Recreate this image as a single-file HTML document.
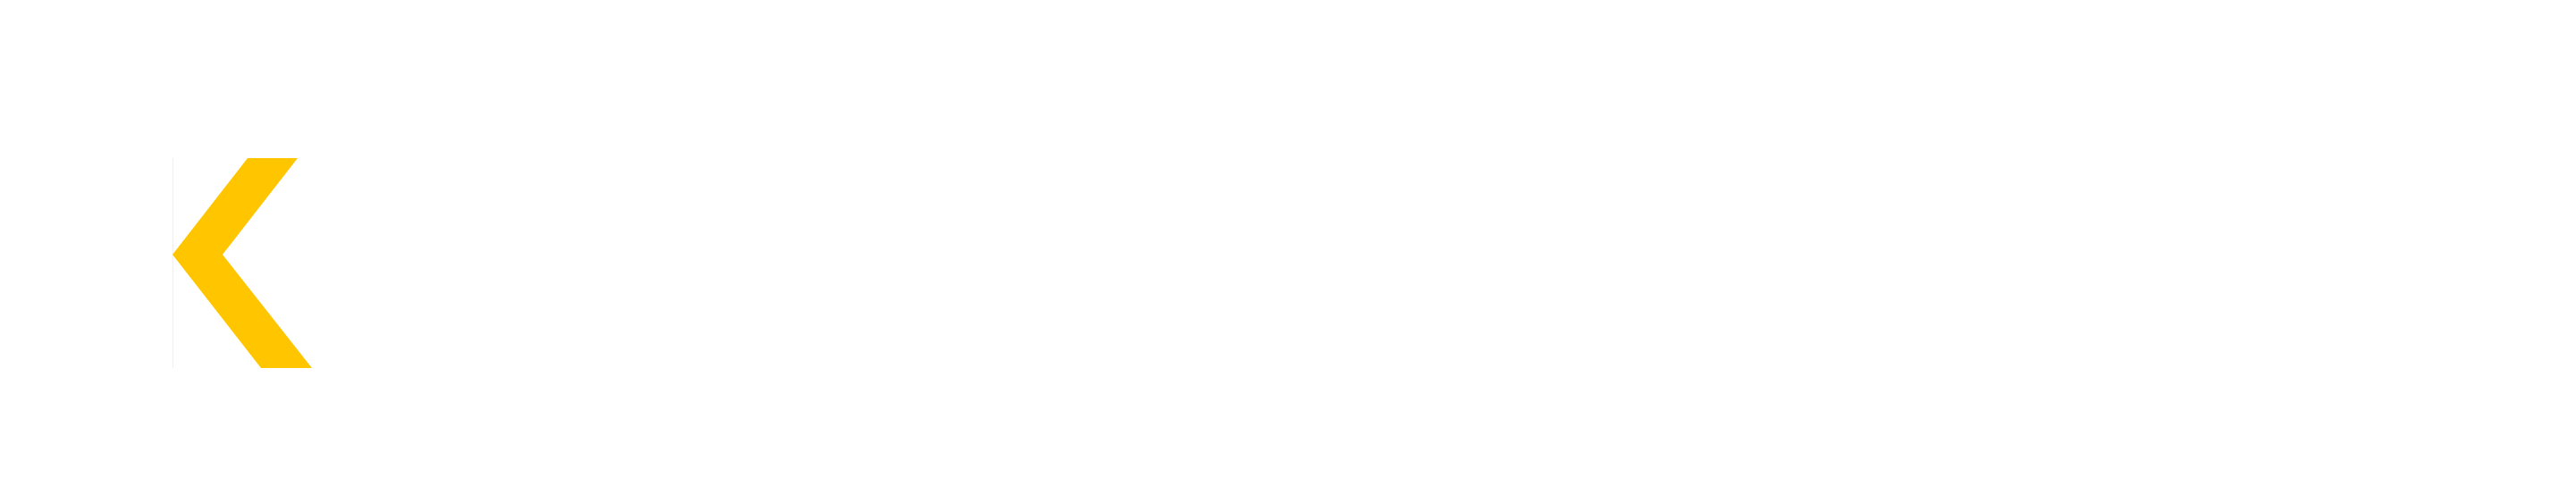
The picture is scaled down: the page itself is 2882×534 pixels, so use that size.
<!DOCTYPE html>
<html><head><style>html,body{margin:0;padding:0;background:#fff;width:2882px;height:534px;overflow:hidden}</style></head>
<body>
<svg width="2882" height="534" xmlns="http://www.w3.org/2000/svg">
<rect width="2882" height="534" fill="#fff"/>
<line x1="193.5" y1="177" x2="193.5" y2="412" stroke="#f0f0f0" stroke-width="1"/>
<polygon points="277,177 333,177 249,285 349,412 292,412 193,285" fill="#ffc600"/>
</svg>
</body></html>
